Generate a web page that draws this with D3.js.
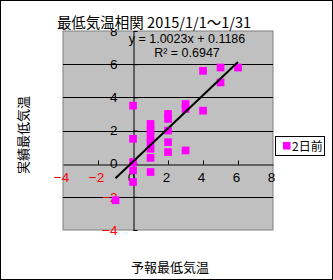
<!DOCTYPE html>
<meta charset="utf-8">
<style>
    body { margin: 0; background: #fff; }
    text { font-family: "Liberation Sans", Arial, sans-serif; }
    .jp { font-family: "Noto Sans CJK JP", sans-serif; }
</style>
<body>
<script src="https://cdn.jsdelivr.net/npm/d3@7"></script>
<script>

    var width = 333,
        height = 280;

    // 予報 (forecast) vs 実績 (observed), one point per day
    var forecast = [0, 0, 0, 0, 0, 1, 1, 1, 1, 1, 1, 1, 2, 2, 2, 2, 2, 3, 3, 3, 4, 4, 5, 5, 6, -1];
    var observed = [3.5, 1.5, 0.1, -0.4, -1.1, 2.4, 2.0, 1.6, 1.3, 0.9, 0.35, -0.5,
                    3.0, 2.7, 2.0, 1.3, 0.7, 3.6, 3.3, 0.8, 5.6, 3.2, 5.8, 4.9, 5.8, -2.2];

    var ticks = [-4, -2, 0, 2, 4, 6, 8];
    var slope = 1.0023, intercept = 0.1186, r2 = 0.6947;
    var seriesName = "2日前";

    var x = d3.scaleLinear().domain([-4, 8]).range([63, 273]);
    var y = d3.scaleLinear().domain([-4, 8]).range([230, 31]);

    var svg = d3.select("body").append("svg")
        .attr("width", width)
        .attr("height", height);

    svg.append("rect")
        .attr("x", 0.5).attr("y", 0.5)
        .attr("width", width - 1).attr("height", height - 1)
        .attr("fill", "#fff").attr("stroke", "#000");

    // plot area
    svg.append("rect")
        .attr("x", x(-4)).attr("y", y(8))
        .attr("width", x(8) - x(-4)).attr("height", y(-4) - y(8))
        .attr("fill", "#c0c0c0").attr("stroke", "#808080");

    svg.selectAll(".grid")
        .data(ticks.filter(function(d) { return d != 0 && d != 8 && d != -4; }))
        .enter().append("line")
        .attr("x1", x(-4)).attr("x2", x(8))
        .attr("y1", function(d) { return Math.round(y(d)) + 0.5; })
        .attr("y2", function(d) { return Math.round(y(d)) + 0.5; })
        .attr("stroke", "#000");

    var xAxis = svg.append("g")
        .attr("transform", "translate(0," + (Math.round(y(0)) + 0.5) + ")")
        .call(d3.axisBottom(x).tickValues(ticks).tickSizeInner(-4).tickSizeOuter(0).tickPadding(8));

    var yAxis = svg.append("g")
        .attr("transform", "translate(" + (Math.round(x(0)) + 0.5) + ",0)")
        .call(d3.axisLeft(y).tickValues(ticks).tickSizeInner(-4).tickSizeOuter(0).tickPadding(16));

    [xAxis, yAxis].forEach(function(g) {
        g.select(".domain").attr("stroke", "#000");
        g.selectAll(".tick line").attr("stroke", "#000");
        g.selectAll(".tick text")
            .style("font-size", "13.5px")
            .attr("fill", function(d) { return d < 0 ? "#f00" : "#000"; })
            .text(function(d) { return d < 0 ? "\u2212" + (-d) : d; });
    });
    xAxis.selectAll(".tick text").attr("x", -2);
    xAxis.selectAll(".tick").filter(function(d) { return d == 0 || d == -4 || d == 8; }).select("line").remove();

    // markers
    svg.selectAll(".pt")
        .data(forecast)
        .enter().append("rect")
        .attr("x", function(d) { return x(d) - 3.8; })
        .attr("y", function(d, i) { return y(observed[i]) - 3.8; })
        .attr("width", 7.7).attr("height", 7.7)
        .attr("fill", "#ff00ff");

    // trendline
    var xr = d3.extent(forecast);
    svg.append("line")
        .attr("x1", x(xr[0])).attr("y1", y(slope * xr[0] + intercept))
        .attr("x2", x(xr[1])).attr("y2", y(slope * xr[1] + intercept))
        .attr("stroke", "#000").attr("stroke-width", 2);

    svg.append("text")
        .attr("x", 187).attr("y", 43)
        .attr("text-anchor", "middle")
        .style("font-size", "12.5px")
        .text("y = " + slope + "x + " + intercept);
    svg.append("text")
        .attr("x", 187).attr("y", 57)
        .attr("text-anchor", "middle")
        .style("font-size", "12.5px")
        .text("R\u00b2 = " + r2);

    // title with white box hiding the top of the "8"
    svg.append("rect")
        .attr("x", 54).attr("y", 13).attr("width", 200).attr("height", 16)
        .attr("fill", "#fff");
    svg.append("text")
        .attr("class", "jp")
        .attr("x", 154).attr("y", 28)
        .attr("text-anchor", "middle")
        .style("font-size", "14.5px")
        .text("最低気温相関 2015/1/1～1/31");

    svg.append("text")
        .attr("class", "jp")
        .attr("transform", "translate(28,135) rotate(-90)")
        .attr("text-anchor", "middle")
        .style("font-size", "13px")
        .text("実績最低気温");

    svg.append("text")
        .attr("class", "jp")
        .attr("x", 170).attr("y", 272)
        .attr("text-anchor", "middle")
        .style("font-size", "13px")
        .text("予報最低気温");

    // legend
    var legend = svg.append("g");
    legend.append("rect")
        .attr("x", 275.5).attr("y", 136.5).attr("width", 49).attr("height", 19)
        .attr("fill", "#fff").attr("stroke", "#000");
    legend.append("rect")
        .attr("x", 283).attr("y", 142).attr("width", 7.5).attr("height", 7.5)
        .attr("fill", "#ff00ff");
    legend.append("text")
        .attr("class", "jp")
        .attr("x", 292).attr("y", 151)
        .style("font-size", "12px")
        .text(seriesName);

</script>
